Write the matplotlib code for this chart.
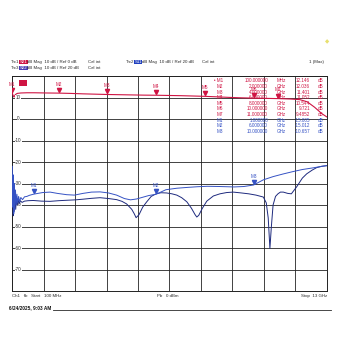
import numpy as np
import matplotlib.pyplot as plt
from matplotlib.transforms import offset_copy

plt.rcParams['font.family'] = ['Liberation Sans', 'DejaVu Sans']

# ---- data (frequency in GHz, level in dB) ----
s21_f = [0.10, 0.13, 0.17, 0.22, 0.30, 0.45, 0.70, 1.0, 1.5, 2.0, 2.5, 3.0, 3.5, 4.0, 4.5, 5.0, 5.5,
         6.0, 6.5, 7.0, 7.5, 8.0, 8.5, 9.0, 9.5, 10.0, 10.5, 11.0, 11.5, 11.9, 12.2, 12.5, 12.8, 13.0]
s21_db = [12.15, 11.0, 10.2, 11.3, 11.9, 12.1, 12.2, 12.2, 12.1, 12.04, 11.9, 11.7, 11.55, 11.4, 11.3,
          11.2, 11.1, 11.05, 10.95, 10.85, 10.7, 10.54, 10.3, 10.05, 9.85, 9.72, 9.6, 9.49, 9.3, 9.0,
          8.0, 5.5, 2.5, 1.0]

s11_f = [0.10, 0.12, 0.14, 0.16, 0.18, 0.20, 0.23, 0.26, 0.29, 0.32, 0.36, 0.40, 0.45, 0.52, 0.60,
         0.70, 0.80, 0.96, 1.15, 1.35, 1.65, 1.95, 2.33, 2.65, 3.00, 3.35, 3.70, 4.05, 4.38, 4.70,
         4.95, 5.20, 5.45, 5.70, 6.00, 6.40, 6.85, 7.30, 7.70, 8.10, 8.60, 9.20, 9.60, 10.0, 10.4,
         10.8, 11.2, 11.6, 12.0, 12.4, 12.8, 13.0]
s11_db = [-2, -21, -6, -24, -10, -22, -13, -20, -15, -19, -16, -18.5, -16.5, -17.5, -16.2,
          -16.0, -15.5, -15.0, -14.6, -14.2, -14.0, -14.6, -15.2, -15.4, -14.6, -14.0, -13.9, -14.4,
          -15.4, -17.0, -17.6, -17.2, -16.4, -15.6, -15.0, -12.9, -12.2, -11.8, -11.5, -11.3, -11.4,
          -11.6, -11.4, -10.7, -8.3, -6.8, -5.6, -4.5, -3.5, -2.8, -2.0, -1.7]

s22_f = [0.10, 0.12, 0.14, 0.16, 0.18, 0.21, 0.24, 0.27, 0.30, 0.34, 0.38, 0.43, 0.50, 0.60, 0.75,
         0.96, 1.30, 1.65, 2.00, 2.33, 2.70, 3.00, 3.35, 3.70, 4.05, 4.38, 4.60, 4.79, 5.00, 5.10,
         5.18, 5.30, 5.45, 5.61, 5.80, 6.00, 6.20, 6.43, 6.65, 6.85, 7.05, 7.26, 7.45, 7.60, 7.67,
         7.75, 7.90, 8.08, 8.35, 8.62, 8.90, 9.17, 9.50, 9.80, 10.10, 10.40, 10.52, 10.60, 10.67,
         10.73, 10.80, 10.90, 11.00, 11.10, 11.22, 11.40, 11.55, 11.77, 12.00, 12.18, 12.40, 12.59,
         12.80, 13.0]
s22_db = [-6, -18, -25, -14, -23, -17, -22, -16, -20, -17.5, -19.5, -18, -18.8, -18.2, -18.0,
          -17.9, -18.2, -18.3, -18.0, -17.8, -17.6, -17.3, -16.9, -16.6, -17.0, -17.5, -18.3, -19.5,
          -22.0, -24.0, -25.9, -24.5, -21.0, -18.6, -16.0, -14.8, -14.3, -14.4, -14.8, -15.4, -16.6,
          -18.5, -21.5, -24.5, -25.6, -24.8, -21.5, -18.2, -15.8, -14.8, -14.2, -14.0, -14.4, -14.8,
          -15.4, -16.3, -19.0, -26.0, -40.2, -30.0, -20.0, -16.0, -14.8, -14.0, -14.0, -14.6, -14.8,
          -11.5, -7.5, -5.5, -3.8, -2.6, -2.0, -1.7]

red_mk_name = ['M1', 'M2', 'M3', 'M4', 'M5', 'M6', 'M7']
red_mk_f = [0.1, 2, 4, 6, 8, 10, 11]
red_mk_db = [12.146, 12.036, 11.401, 11.052, 10.544, 9.721, 9.4852]
red_mk_ftxt = ['100.000000', '2.000000', '4.000000', '6.000000', '8.000000', '10.000000', '11.000000']
red_mk_unit = ['MHz', 'GHz', 'GHz', 'GHz', 'GHz', 'GHz', 'GHz']
red_mk_vtxt = ['12.146', '12.036', '11.401', '11.052', '10.544', '9.721', '9.4852']

blue_mk_name = ['M1', 'M2', 'M3']
blue_mk_f = [1, 6, 10]
blue_mk_db = [-15.005, -15.012, -10.657]
blue_mk_ftxt = ['1.000000', '6.000000', '10.000000']
blue_mk_vtxt = ['-15.005', '-15.012', '-10.657']

ytick_vals = [10, 0, -10, -20, -30, -40, -50, -60, -70]

RED = '#cf1443'
BLUE = '#3552c4'
NAVY = '#1e2a7e'
GREY = '#2a2a2a'
W = 340.0


def fx(x):
    return x / W


def fy(y):
    return 1 - y / W


fig = plt.figure(figsize=(3.4, 3.4), dpi=100)
ax = fig.add_axes([fx(12.3), fy(291), fx(326.7) - fx(12.3), fy(76) - fy(291)])
ax.set_xlim(0.1, 13.0)
ax.set_ylim(-80, 20)
ax.set_xticks(np.linspace(0.1, 13.0, 11))
ax.set_yticks(range(-80, 21, 10))
ax.grid(True, color='#222222', lw=0.6)
ax.tick_params(length=0, labelleft=False, labelbottom=False)
for s in ax.spines.values():
    s.set_color('#222222')
    s.set_linewidth(0.7)

# blue traces use Ref 20 dB on the same 10 dB/div grid
ax2 = ax.twinx()
ax2.set_ylim(-60, 40)
ax2.set_yticks([])
for s in ax2.spines.values():
    s.set_visible(False)

ax.plot(s21_f, s21_db, color=RED, lw=0.8, zorder=3)
ax2.plot(s22_f, s22_db, color=NAVY, lw=0.7)
ax2.plot(s11_f, s11_db, color=BLUE, lw=0.7)

for t in ytick_vals:
    ax.text(0.35, t, '%d' % t, fontsize=3.3, color=GREY, va='center', ha='center',
            bbox=dict(facecolor='white', edgecolor='none', pad=0.3))

# markers
fs = 3.3
tr = offset_copy(ax.transData, fig=fig, y=2.2, units='points')
ax.plot(red_mk_f, red_mk_db, 'v', color=RED, ms=3, transform=tr, zorder=4)
for n, f, d in zip(red_mk_name, red_mk_f, red_mk_db):
    ax.text(f, d, n, transform=offset_copy(ax.transData, fig=fig, y=4.5, units='points'),
            fontsize=fs, color=RED, ha='center', va='bottom', clip_on=False)
tr2 = offset_copy(ax2.transData, fig=fig, y=2.2, units='points')
ax2.plot(blue_mk_f, blue_mk_db, 'v', color=BLUE, ms=3, transform=tr2, zorder=4)
for n, f, d in zip(blue_mk_name, blue_mk_f, blue_mk_db):
    ax2.text(f, d, n, transform=offset_copy(ax2.transData, fig=fig, y=4.5, units='points'),
             fontsize=fs, color=BLUE, ha='center', va='bottom')

# marker table
for i in range(7):
    y = fy(81 + 5.6 * i)
    nm = ('\u2022 ' if i == 0 else '') + red_mk_name[i]
    fig.text(fx(223), y, nm, fontsize=fs, color=RED, ha='right', va='center')
    fig.text(fx(268), y, red_mk_ftxt[i], fontsize=fs, color=RED, ha='right', va='center')
    fig.text(fx(277), y, red_mk_unit[i], fontsize=fs, color=RED, ha='left', va='center')
    fig.text(fx(310), y, red_mk_vtxt[i], fontsize=fs, color=RED, ha='right', va='center')
    fig.text(fx(318), y, 'dB', fontsize=fs, color=RED, ha='left', va='center')
for i in range(3):
    y = fy(81 + 5.6 * (7 + i))
    fig.text(fx(223), y, blue_mk_name[i], fontsize=fs, color=BLUE, ha='right', va='center')
    fig.text(fx(268), y, blue_mk_ftxt[i], fontsize=fs, color=BLUE, ha='right', va='center')
    fig.text(fx(277), y, 'GHz', fontsize=fs, color=BLUE, ha='left', va='center')
    fig.text(fx(310), y, blue_mk_vtxt[i], fontsize=fs, color=BLUE, ha='right', va='center')
    fig.text(fx(318), y, 'dB', fontsize=fs, color=BLUE, ha='left', va='center')

# trace indicator on the grid
fig.text(fx(20), fy(83), 'S21', fontsize=2.6, color=RED, ha='left', va='center',
         bbox=dict(facecolor=RED, edgecolor='none', pad=0.4))

# header
hfs = 3.2
fig.text(fx(11), fy(62), 'Trc1', fontsize=hfs, color=GREY, va='center')
fig.text(fx(19.5), fy(62), 'S21', fontsize=hfs, color='white', va='center',
         bbox=dict(facecolor=RED, edgecolor='none', pad=0.3))
fig.text(fx(27), fy(62), 'dB Mag  10 dB / Ref 0 dB', fontsize=hfs, color=GREY, va='center')
fig.text(fx(88), fy(62), 'Cal int', fontsize=hfs, color=GREY, va='center')
fig.text(fx(11), fy(68), 'Trc3', fontsize=hfs, color=GREY, va='center')
fig.text(fx(19.5), fy(68), 'S22', fontsize=hfs, color='white', va='center',
         bbox=dict(facecolor='#4a3fb5', edgecolor='none', pad=0.3))
fig.text(fx(27), fy(68), 'dB Mag  10 dB / Ref 20 dB', fontsize=hfs, color=GREY, va='center')
fig.text(fx(88), fy(68), 'Cal int', fontsize=hfs, color=GREY, va='center')
fig.text(fx(126), fy(62), 'Trc2', fontsize=hfs, color=GREY, va='center')
fig.text(fx(134.5), fy(62), 'S11', fontsize=hfs, color='white', va='center',
         bbox=dict(facecolor='#1f3fbf', edgecolor='none', pad=0.3))
fig.text(fx(142), fy(62), 'dB Mag  10 dB / Ref 20 dB', fontsize=hfs, color=GREY, va='center')
fig.text(fx(202), fy(62), 'Cal int', fontsize=hfs, color=GREY, va='center')
fig.text(fx(324), fy(62), '1 (Max)', fontsize=hfs, color=GREY, va='center', ha='right')
fig.text(fx(327), fy(42), '\u25c6', fontsize=4, color='#e8e070', ha='center', va='center')

# footer
fig.text(fx(12), fy(296), 'Ch1   fb   Start   100 MHz', fontsize=hfs, color=GREY, va='center')
fig.text(fx(157), fy(296), 'Pb   0 dBm', fontsize=hfs, color=GREY, va='center')
fig.text(fx(327), fy(296), 'Stop  13 GHz', fontsize=hfs, color=GREY, va='center', ha='right')
fig.text(fx(9), fy(308), '6/24/2025, 9:03 AM', fontsize=3.4, color='#111111', va='center',
         fontweight='bold')
fig.add_artist(plt.Line2D([fx(53), fx(331)], [fy(310), fy(310)], color=GREY, lw=0.6))

fig.savefig('out.png', dpi=100)
